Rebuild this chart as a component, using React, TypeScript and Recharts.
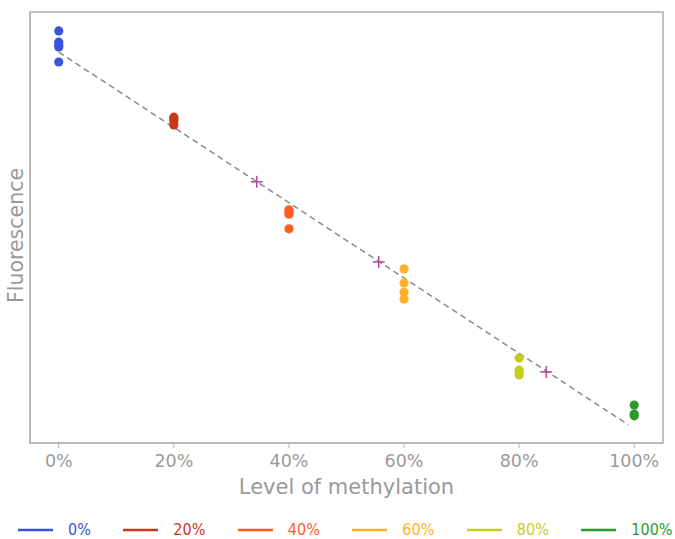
import {
  ScatterChart,
  Scatter,
  XAxis,
  YAxis,
  Legend,
  ReferenceArea,
} from "recharts";

// measured fluorescence (arbitrary units) at each methylation level
const pts0 = [95.6, 93.0, 92.3, 91.9, 88.4];
const pts20 = [75.6, 75.2, 74.7, 73.8];
const pts40 = [54.1, 53.6, 53.1, 49.7];
const pts60 = [40.4, 37.1, 35.0, 33.4];
const pts80 = [19.7, 16.9, 16.5, 15.8];
const pts100 = [8.8, 6.7, 6.3];

const levels = [0, 20, 40, 60, 80, 100];
const seriesNames = ["0%", "20%", "40%", "60%", "80%", "100%"];
const seriesColors = ["#3a55d6", "#c9381e", "#ff5c24", "#ffb129", "#c6cd1c", "#2b9a2b"];

// unknown samples
const unknownX = [34.4, 55.6, 84.7];
const unknownY = [60.6, 42.0, 16.5];

// standard curve endpoints
const fitX = [0, 99];
const fitY = [90.7, 4.2];

const xTicks = [0, 20, 40, 60, 80, 100];

const allPts = [pts0, pts20, pts40, pts60, pts80, pts100];
const series = allPts.map((vals, i) => ({
  name: seriesNames[i],
  color: seriesColors[i],
  data: vals.map((y) => ({ x: levels[i], y })),
}));
const unknowns = unknownX.map((x, i) => ({ x, y: unknownY[i] }));
const fitLine = fitX.map((x, i) => ({ x, y: fitY[i] }));

const FONT = "'DejaVu Sans', sans-serif";
const NARROW = "'DejaVu Sans Condensed', 'DejaVu Sans', sans-serif";
const GRAY = "#9a9a9a";

const Dot = (color: string) => (props: any) =>
  <circle cx={props.cx} cy={props.cy} r={4.6} fill={color} />;

const Plus = (props: any) => {
  const { cx, cy } = props;
  return (
    <g stroke="#b2479c" strokeWidth={1.5}>
      <line x1={cx - 6} y1={cy} x2={cx + 6} y2={cy} />
      <line x1={cx} y1={cy - 6} x2={cx} y2={cy + 6} />
    </g>
  );
};

const YTitle = (props: any) => {
  const vb = props.viewBox;
  const x = vb.x + vb.width / 2 + 1;
  const y = vb.y + vb.height / 2 + 8;
  return (
    <text
      x={x}
      y={y}
      transform={`rotate(-90 ${x} ${y})`}
      textAnchor="middle"
      dominantBaseline="central"
      fill={GRAY}
      fontSize={20.5}
      fontFamily={FONT}
    >
      Fluorescence
    </text>
  );
};

const LegendBox = () => (
  <div
    style={{
      height: 34,
      display: "flex",
      alignItems: "flex-end",
      paddingLeft: 18,
      fontFamily: NARROW,
      fontSize: 16,
      boxSizing: "border-box",
    }}
  >
    {series.map((s) => (
      <div key={s.name} style={{ display: "flex", alignItems: "center", marginRight: 32.5 }}>
        <svg width={35} height={4} style={{ marginRight: 15 }}>
          <line x1={0} y1={2} x2={35} y2={2} stroke={s.color} strokeWidth={2.5} />
        </svg>
        <span style={{ color: s.color }}>{s.name}</span>
      </div>
    ))}
  </div>
);

export default function App() {
  return (
    <div style={{ position: "absolute", left: 0, top: 0 }}>
      <ScatterChart
        width={675}
        height={539}
        margin={{ top: 12, right: 12, left: 0, bottom: 0 }}
      >
        <XAxis
          type="number"
          dataKey="x"
          domain={[-5, 105]}
          ticks={xTicks}
          tickFormatter={(v) => `${v}%`}
          tickSize={5}
          tickMargin={7}
          height={62}
          stroke="#b0b0b0"
          tick={{ fill: GRAY, fontSize: 17.5, fontFamily: FONT }}
          label={{
            value: "Level of methylation",
            position: "insideBottom",
            offset: 11,
            style: { fill: GRAY, fontSize: 21, fontFamily: FONT },
          }}
        />
        <YAxis
          type="number"
          dataKey="y"
          domain={[0, 100]}
          width={30}
          tick={false}
          tickLine={false}
          stroke="#b0b0b0"
          label={YTitle}
        />
        <ReferenceArea
          x1={-5}
          x2={105}
          y1={0}
          y2={100}
          fill="none"
          stroke="#b0b0b0"
          strokeWidth={1.5}
        />
        <Scatter
          data={fitLine}
          line={{ stroke: "#8a8a8a", strokeWidth: 1.5, strokeDasharray: "6 4" }}
          shape={() => <g />}
          legendType="none"
          isAnimationActive={false}
        />
        {series.map((s) => (
          <Scatter
            key={s.name}
            name={s.name}
            data={s.data}
            fill={s.color}
            shape={Dot(s.color)}
            isAnimationActive={false}
          />
        ))}
        <Scatter
          data={unknowns}
          shape={Plus}
          legendType="none"
          isAnimationActive={false}
        />
        <Legend verticalAlign="bottom" content={LegendBox} />
      </ScatterChart>
    </div>
  );
}
